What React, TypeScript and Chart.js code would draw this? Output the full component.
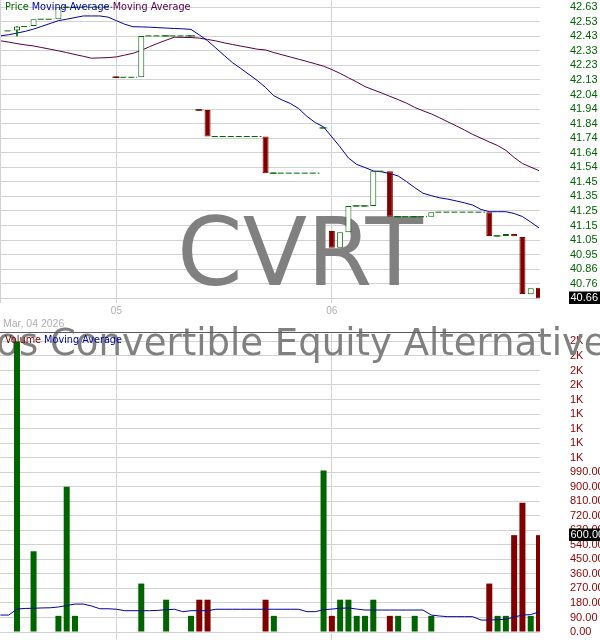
import React, { useEffect, useRef } from "react";
import { Chart, registerables } from "chart.js";

Chart.register(...registerables);

// 15-minute slots: the tail of Mar 04, then the sessions of the 5th and 6th
const ticker = "CVRT";
const fundName = "Calamos Convertible Equity Alternative ETF";
const namePrefix = "Calamos ";
const firstDate = "Mar, 04 2026";

const dayTicks = [14, 40];
const dayLabels = ["05", "06"];

// last print before the window, carried into slot 1
const openingClose = 42.47;

const opens = [
  null, null, 42.472, null, 42.503, null, null, 42.549, 42.63, 42.63,
  null, null, null, null, 42.156, null, null, 42.156, null, null,
  42.436, null, null, 42.436, 41.935, 41.935, null, null, null, null,
  null, null, 41.755, 41.507, null, null, null, null, null, 41.813,
  41.115, 41.002, 41.107, 41.285, 41.285, 41.285, null, 41.52, 41.212, null,
  41.212, null, 41.212, null, null, null, null, null, null, 41.243,
  41.082, 41.082, 41.095, 41.075, 40.687, 40.731,
];
const closes = [
  null, null, 42.499, null, 42.549, null, null, 42.63, 42.63, 42.63,
  null, null, null, null, 42.156, null, null, 42.436, null, null,
  42.436, null, null, 42.436, 41.935, 41.755, null, null, null, null,
  null, null, 41.507, 41.507, null, null, null, null, null, 41.813,
  41.002, 41.107, 41.285, 41.285, 41.285, 41.52, null, 41.212, 41.212, null,
  41.212, null, 41.243, null, null, null, null, null, null, 41.082,
  41.082, 41.095, 41.079, 40.689, 40.727, 40.66,
];
const wickSlots = [2];
const wickLows = [42.436];
const wickHighs = [42.499];

const volumes = [
  0, 0, 1800, 0, 500, 0, 0, 100, 900, 100,
  0, 0, 0, 0, 0, 0, 0, 300, 0, 0,
  200, 0, 0, 100, 200, 200, 0, 0, 0, 0,
  0, 0, 200, 100, 0, 0, 0, 0, 0, 1000,
  100, 200, 200, 100, 100, 200, 0, 100, 100, 0,
  100, 0, 100, 0, 0, 0, 0, 0, 0, 300,
  100, 100, 600, 800, 100, 600,
];

const priceMaFast = [
  42.436, 42.444, 42.455, 42.467, 42.482, 42.501, 42.52, 42.539, 42.549, 42.56,
  42.571, 42.571, 42.571, 42.563, 42.539, 42.515, 42.498, 42.497, 42.495, 42.492,
  42.489, 42.486, 42.484, 42.48, 42.443, 42.403, 42.354, 42.304, 42.255, 42.216,
  42.175, 42.134, 42.087, 42.031, 42.002, 41.978, 41.944, 41.891, 41.849, 41.82,
  41.752, 41.684, 41.61, 41.566, 41.545, 41.522, 41.516, 41.504, 41.488, 41.45,
  41.409, 41.371, 41.355, 41.34, 41.331, 41.319, 41.306, 41.291, 41.261, 41.246,
  41.246, 41.246, 41.234, 41.213, 41.176, 41.136,
];
const priceMaSlow = [
  42.403, 42.394, 42.384, 42.375, 42.368, 42.357, 42.346, 42.335, 42.323, 42.31,
  42.298, 42.285, 42.287, 42.289, 42.294, 42.306, 42.318, 42.338, 42.363, 42.386,
  42.407, 42.427, 42.426, 42.425, 42.421, 42.412, 42.402, 42.389, 42.378, 42.367,
  42.357, 42.346, 42.341, 42.323, 42.308, 42.293, 42.278, 42.263, 42.247, 42.231,
  42.208, 42.182, 42.153, 42.124, 42.093, 42.071, 42.05, 42.027, 42.005, 41.981,
  41.952, 41.929, 41.908, 41.882, 41.854, 41.827, 41.799, 41.769, 41.744, 41.718,
  41.694, 41.661, 41.613, 41.572, 41.548, 41.524,
];
const volumeMa = [
  105, 105, 142, 146, 147, 149, 150, 155, 164, 173,
  173, 161, 144, 144, 141, 132, 132, 132, 132, 134,
  138, 141, 126, 132, 132, 132, 141, 141, 141, 141,
  141, 141, 141, 141, 141, 141, 141, 126, 126, 138,
  142, 147, 149, 142, 136, 136, 136, 136, 136, 136,
  136, 136, 105, 99, 95, 95, 95, 95, 74, 74,
  77, 79, 93, 105, 108, 124,
];

const priceTickValues = [
  40.66, 40.7585, 40.857, 40.9555, 41.054, 41.1525, 41.251, 41.3495, 41.448, 41.5465,
  41.645, 41.7435, 41.842, 41.9405, 42.039, 42.1375, 42.236, 42.3345, 42.433, 42.5315,
  42.63,
];
const priceTickLabels = [
  "40.66", "40.76", "40.86", "40.95", "41.05", "41.15", "41.25", "41.35", "41.45", "41.54",
  "41.64", "41.74", "41.84", "41.94", "42.04", "42.13", "42.23", "42.33", "42.43", "42.53",
  "42.63",
];
const volumeTickValues = [
  0, 90, 180, 270, 360, 450, 540, 630, 720, 810, 900, 990,
  1080, 1170, 1260, 1350, 1440, 1530, 1620, 1710, 1800,
];
const volumeTickLabels = [
  "0.00", "90.00", "180.00", "270.00", "360.00", "450.00", "540.00", "630.00", "720.00",
  "810.00", "900.00", "990.00", "1K", "1K", "1K", "1K", "1K", "2K", "2K", "2K", "2K",
];

const GREEN = "#006400";
const RED = "#800000";
const BLUE = "#0000a0";
const PURPLE = "#550046";
const GRID = "#d2d2d2";
const FAINT = "#b0b0b0";
const WATERMARK = "#808080";
const LABEL_FONT = "Liberation Sans";
const NAME_FONT = "DejaVu Sans";

const X_MIN = -0.05;
const X_MAX = 65.12;

type Pt = { x: number; y: number | null };

function buildPrice() {
  const bodies: any[] = [];
  const flatsUp: Pt[] = [];
  const flatsDown: Pt[] = [];
  const carry: Pt[] = [];
  const ups: boolean[] = [true];
  let last = openingClose;
  let runVal: number | null = null;
  for (let j = 1; j < opens.length; j++) {
    const o = opens[j];
    const c = closes[j];
    const traded = o !== null && c !== null;
    const up = traded ? (c as number) >= last : true;
    ups[j] = up;
    if (traded && o !== c) {
      bodies.push({ x: j, y: [o, c], up, hollow: (c as number) >= (o as number) });
      if (runVal !== null) {
        carry.push({ x: j - 0.5, y: null });
        runVal = null;
      }
      last = c as number;
      continue;
    }
    const v = traded ? (c as number) : last;
    if (traded) {
      const seg = up ? flatsUp : flatsDown;
      seg.push({ x: j - 0.36, y: v }, { x: j + 0.36, y: v }, { x: j + 0.36, y: null });
    }
    if (runVal !== v) {
      if (runVal !== null) carry.push({ x: j - 0.5, y: null });
      carry.push({ x: j - 0.5, y: v });
      runVal = v;
    }
    carry.push({ x: j + 0.5, y: v });
    last = v;
  }
  const wicks = wickSlots.map((s, i) => ({ x: s, y: [wickLows[i], wickHighs[i]], up: ups[s] }));
  return { bodies, flatsUp, flatsDown, carry, wicks, ups };
}

function drawParts(ctx: CanvasRenderingContext2D, x: number, y: number, parts: [string, string][]) {
  let cx = x;
  for (const [text, color] of parts) {
    ctx.fillStyle = color;
    ctx.fillText(text, cx, y);
    cx += ctx.measureText(text).width;
  }
}

function drawName(ctx: CanvasRenderingContext2D, baseline: number) {
  ctx.font = `37px '${NAME_FONT}'`;
  ctx.fillStyle = WATERMARK;
  ctx.textAlign = "left";
  ctx.textBaseline = "alphabetic";
  const x = 50 - ctx.measureText(namePrefix).width;
  ctx.fillText(fundName, x, baseline);
}

function drawLastBox(chart: any, value: number, label: string) {
  const ctx = chart.ctx as CanvasRenderingContext2D;
  const y = chart.scales.y.getPixelForValue(value);
  ctx.save();
  ctx.fillStyle = "#000000";
  ctx.fillRect(569, Math.round(y) - 6.5, 31, 12.5);
  ctx.fillStyle = "#ffffff";
  ctx.font = `11px '${LABEL_FONT}'`;
  ctx.textAlign = "left";
  ctx.textBaseline = "middle";
  ctx.fillText(label, 570.5, y);
  ctx.restore();
}

function xScale(height: number, showLabels: boolean) {
  return {
    type: "linear",
    min: X_MIN,
    max: X_MAX,
    offset: false,
    grid: { color: GRID, offset: false, drawTicks: false },
    border: { display: false },
    afterBuildTicks: (s: any) => {
      s.ticks = dayTicks.map((value) => ({ value }));
    },
    ticks: {
      display: showLabels,
      autoSkip: false,
      maxRotation: 0,
      padding: 2,
      color: FAINT,
      font: { family: LABEL_FONT, size: 10 },
      callback: (_v: any, i: number) => dayLabels[i],
    },
    afterFit: (s: any) => {
      s.height = height;
      s.paddingLeft = 0;
      s.paddingRight = 0;
    },
  };
}

function yScale(min: number, max: number, values: number[], labels: string[], color: string) {
  return {
    type: "linear",
    position: "right",
    min,
    max,
    beginAtZero: false,
    grid: { color: GRID, drawTicks: false },
    border: { display: false },
    afterBuildTicks: (s: any) => {
      s.ticks = values.map((value) => ({ value }));
    },
    ticks: {
      autoSkip: false,
      padding: 30,
      color,
      font: { family: LABEL_FONT, size: 11 },
      callback: (_v: any, i: number) => labels[i],
    },
    afterFit: (s: any) => {
      s.width = 60;
      s.paddingTop = 0;
      s.paddingBottom = 0;
    },
  };
}

const App: React.FC = () => {
  const priceRef = useRef<HTMLCanvasElement | null>(null);
  const volumeRef = useRef<HTMLCanvasElement | null>(null);

  useEffect(() => {
    if (!priceRef.current || !volumeRef.current) return;
    const { bodies, flatsUp, flatsDown, carry, wicks, ups } = buildPrice();
    const slots = opens.map((_o, j) => j);

    const priceDecor = {
      id: "priceDecor",
      beforeDatasetsDraw(chart: any) {
        const ctx = chart.ctx as CanvasRenderingContext2D;
        ctx.save();
        ctx.font = `94px '${NAME_FONT}'`;
        ctx.fillStyle = WATERMARK;
        ctx.textAlign = "center";
        ctx.textBaseline = "alphabetic";
        ctx.fillText(ticker, 300, 285);
        drawName(ctx, 355);
        ctx.restore();
      },
      afterDraw(chart: any) {
        const ctx = chart.ctx as CanvasRenderingContext2D;
        const area = chart.chartArea;
        ctx.save();
        ctx.strokeStyle = GRID;
        ctx.lineWidth = 1;
        ctx.beginPath();
        ctx.moveTo(area.left + 0.5, area.top);
        ctx.lineTo(area.left + 0.5, area.bottom);
        ctx.stroke();
        ctx.font = `9.7px '${NAME_FONT}'`;
        ctx.textAlign = "left";
        ctx.textBaseline = "alphabetic";
        drawParts(ctx, 5, 10, [
          ["Price ", GREEN],
          ["Moving Average ", BLUE],
          ["Moving Average", PURPLE],
        ]);
        ctx.font = `10.5px '${LABEL_FONT}'`;
        ctx.fillStyle = FAINT;
        ctx.fillText(firstDate, 3, 326.5);
        ctx.restore();
        const lastClose = closes[closes.length - 1] as number;
        drawLastBox(chart, lastClose, lastClose.toFixed(2));
      },
    };

    const volumeDecor = {
      id: "volumeDecor",
      beforeDatasetsDraw(chart: any) {
        const ctx = chart.ctx as CanvasRenderingContext2D;
        ctx.save();
        drawName(ctx, 355 - 332);
        ctx.restore();
      },
      afterDraw(chart: any) {
        const ctx = chart.ctx as CanvasRenderingContext2D;
        ctx.save();
        ctx.strokeStyle = "#5a5a5a";
        ctx.lineWidth = 1;
        ctx.beginPath();
        ctx.moveTo(0, 0.5);
        ctx.lineTo(chart.chartArea.right, 0.5);
        ctx.stroke();
        ctx.font = `9.7px '${NAME_FONT}'`;
        ctx.textAlign = "left";
        ctx.textBaseline = "alphabetic";
        drawParts(ctx, 5, 11.3, [
          ["Volume ", RED],
          ["Moving Average", BLUE],
        ]);
        ctx.restore();
        const lastVolume = volumes[volumes.length - 1];
        drawLastBox(chart, lastVolume, lastVolume.toFixed(2));
      },
    };

    const bodyColor = (c: any) => (c.raw && c.raw.up ? GREEN : RED);
    const bodyFill = (c: any) => (c.raw && c.raw.hollow ? "#ffffff" : bodyColor(c));

    const priceChart = new Chart(priceRef.current, {
      type: "bar",
      data: {
        datasets: [
          {
            type: "bar",
            data: bodies,
            order: 0,
            grouped: false,
            barThickness: 6,
            borderWidth: 1,
            borderSkipped: false,
            inflateAmount: 0,
            backgroundColor: bodyFill,
            borderColor: bodyColor,
          },
          {
            type: "bar",
            data: wicks,
            order: 1,
            grouped: false,
            barThickness: 1,
            borderWidth: 0,
            backgroundColor: bodyColor,
          },
          { type: "line", data: flatsUp, order: 2, borderColor: GREEN, borderWidth: 1, pointRadius: 0, spanGaps: false },
          { type: "line", data: flatsDown, order: 2, borderColor: RED, borderWidth: 1.5, pointRadius: 0, spanGaps: false },
          {
            type: "line",
            data: carry,
            order: 3,
            borderColor: GREEN,
            borderWidth: 1,
            borderDash: [6, 2],
            pointRadius: 0,
            spanGaps: false,
          },
          {
            type: "line",
            data: slots.map((x) => ({ x, y: priceMaFast[x] })),
            order: 4,
            borderColor: BLUE,
            borderWidth: 1,
            pointRadius: 0,
          },
          {
            type: "line",
            data: slots.map((x) => ({ x, y: priceMaSlow[x] })),
            order: 5,
            borderColor: PURPLE,
            borderWidth: 1,
            pointRadius: 0,
          },
        ],
      } as any,
      options: {
        responsive: false,
        animation: false,
        events: [],
        layout: { padding: 0 },
        plugins: { legend: { display: false }, tooltip: { enabled: false } },
        scales: {
          x: xScale(29, true),
          y: yScale(40.628, 42.679, priceTickValues, priceTickLabels, GREEN),
        } as any,
      },
      plugins: [priceDecor],
    });

    const volumeChart = new Chart(volumeRef.current, {
      type: "bar",
      data: {
        datasets: [
          {
            type: "line",
            data: slots.map((x) => ({ x, y: volumeMa[x] })),
            order: 0,
            borderColor: BLUE,
            borderWidth: 1,
            pointRadius: 0,
          },
          {
            type: "bar",
            data: volumes
              .map((v, j) => ({ x: j, y: v, up: ups[j] }))
              .filter((p) => p.y > 0),
            order: 1,
            grouped: false,
            barThickness: 6,
            borderWidth: 0,
            inflateAmount: 0,
            backgroundColor: bodyColor,
          },
        ],
      } as any,
      options: {
        responsive: false,
        animation: false,
        events: [],
        layout: { padding: { top: 2, left: 0, right: 0, bottom: 0 } },
        plugins: { legend: { display: false }, tooltip: { enabled: false } },
        scales: {
          x: xScale(0, false),
          y: yScale(-49.55, 1845.9, volumeTickValues, volumeTickLabels, "#8b0000"),
        } as any,
      },
      plugins: [volumeDecor],
    });

    return () => {
      priceChart.destroy();
      volumeChart.destroy();
    };
  }, []);

  return (
    <div style={{ position: "absolute", left: 0, top: 0, width: 600, height: 640, background: "#ffffff" }}>
      <canvas ref={priceRef} width={600} height={332} style={{ position: "absolute", left: 0, top: 0 }} />
      <canvas ref={volumeRef} width={600} height={308} style={{ position: "absolute", left: 0, top: 332 }} />
    </div>
  );
};

export default App;
